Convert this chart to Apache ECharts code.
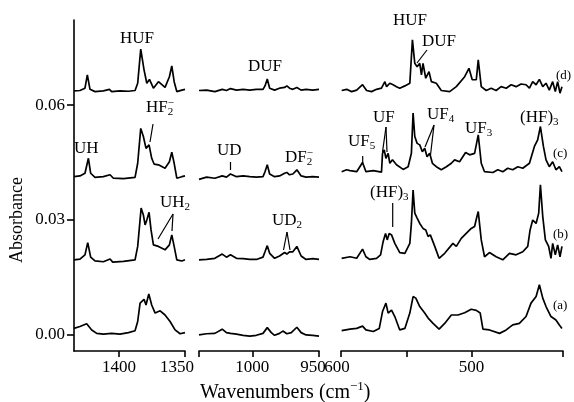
<!DOCTYPE html>
<html>
<head>
<meta charset="utf-8">
<script src="https://cdn.jsdelivr.net/npm/echarts@6.0.0/dist/echarts.min.js"></script>
<style>
  html, body { margin: 0; padding: 0; background: #fff; }
  #main { width: 574px; height: 402px; }
</style>
</head>
<body>
<div id="main"></div>
<script>
// axis ranges (cm-1) of the three broken panels, and absorbance range
var range1 = [1350, 1434];
var range2 = [950, 1040];
var range3 = [430, 600];
var yRange = [-0.0042, 0.0822];

// tick marks and tick labels
var yTicks = [0, 0.03, 0.06];
var x1Ticks = [1400, 1350];
var x1Labels = [1400, 1350];
var x2Ticks = [1040, 1000, 950];
var x2Labels = [1000, 950];
var x3Ticks = [600, 550, 500, 430];
var x3Labels = [600, 500];

// panel 1 (1434-1350)
var p1a = [[1434,0.0017],[1429.5,0.0022],[1424.4,0.0029],[1420.6,0.0013],[1416.8,0.0004],[1411.8,0.0002],[1405.5,0.0004],[1399.2,0.0002],[1392.8,0.0006],[1387.8,0.0011],[1385.8,0.0035],[1384,0.0083],[1381,0.0093],[1379.5,0.0078],[1377.4,0.0107],[1375.2,0.0078],[1372.6,0.0057],[1368.8,0.0063],[1365.1,0.0052],[1361.3,0.0035],[1357.5,0.0013],[1353.7,0.0003],[1350,0.0006]];
var p1b = [[1434,0.0196],[1429.5,0.0198],[1425.7,0.0209],[1423.6,0.0241],[1421.4,0.0203],[1418.1,0.0193],[1411.8,0.0191],[1406.7,0.0198],[1404.7,0.0190],[1396.6,0.0192],[1387.8,0.0196],[1385.8,0.0231],[1383.2,0.0331],[1381.5,0.0313],[1380.2,0.0287],[1378.9,0.0300],[1377.2,0.0320],[1375.7,0.0274],[1373.9,0.0235],[1370.1,0.0231],[1365.1,0.0222],[1361.8,0.0235],[1360,0.0261],[1358.2,0.0231],[1356.2,0.0196],[1352.4,0.0193],[1350,0.0196]];
var p1c = [[1434,0.0413],[1429.5,0.0415],[1425.7,0.0422],[1423.1,0.0461],[1421.4,0.0422],[1418.1,0.0411],[1411.8,0.0413],[1406.7,0.0418],[1404.2,0.0409],[1396.6,0.0408],[1387.8,0.0411],[1385.8,0.0448],[1383.5,0.0539],[1381.5,0.0518],[1379.5,0.0487],[1377.2,0.0496],[1375.2,0.0461],[1373.4,0.0446],[1370.1,0.0444],[1365.1,0.0435],[1361.8,0.0452],[1360,0.0477],[1358.2,0.0448],[1356.2,0.0409],[1352.4,0.0413],[1350,0.0415]];
var p1d = [[1434,0.0637],[1429.5,0.0638],[1425.7,0.0644],[1423.9,0.0679],[1421.9,0.0641],[1418.1,0.0635],[1411.8,0.0637],[1407.2,0.0641],[1405.5,0.0635],[1399.2,0.0637],[1392.8,0.0636],[1387.8,0.0638],[1385.8,0.0657],[1383.5,0.0746],[1381,0.0692],[1378.9,0.0657],[1376.9,0.0667],[1373.9,0.0644],[1370.1,0.0661],[1365.1,0.0646],[1361.8,0.0674],[1360,0.0702],[1358.2,0.0661],[1356.2,0.0635],[1352.4,0.0639],[1350,0.0641]];

// panel 2 (1040-950)
var p2a = [[1040,0.0000],[1034.3,0.0003],[1028.1,0.0004],[1022.6,0.0015],[1019.4,0.0006],[1016.4,0.0004],[1011.9,0.0002],[1006.9,-0.0001],[1001.9,-0.0003],[997,-0.0001],[992,0.0004],[988.8,0.0019],[985.8,0.0006],[983.3,-0.0001],[979.6,0.0004],[977.1,0.0010],[974.1,0.0003],[970.8,0.0006],[966.6,0.0020],[963.4,0.0006],[959.7,0.0000],[954.7,-0.0001],[950,-0.0003]];
var p2b = [[1040,0.0196],[1034.3,0.0197],[1028.1,0.0200],[1022.6,0.0211],[1019.4,0.0203],[1016.4,0.0209],[1011.9,0.0200],[1006.9,0.0199],[1001.9,0.0197],[997,0.0197],[992,0.0203],[990.5,0.0217],[988.8,0.0233],[987,0.0213],[983.3,0.0200],[979.6,0.0206],[975.8,0.0215],[974.1,0.0211],[972.1,0.0217],[969.6,0.0217],[966.6,0.0231],[963.4,0.0206],[959.7,0.0197],[954.7,0.0199],[950,0.0197]];
var p2c = [[1040,0.0406],[1034.3,0.0412],[1028.1,0.0409],[1022.6,0.0415],[1019.4,0.0412],[1016.4,0.0420],[1011.9,0.0413],[1006.9,0.0415],[1001.9,0.0413],[997,0.0412],[992,0.0413],[990.5,0.0426],[988.8,0.0444],[987,0.0420],[983.3,0.0413],[979.6,0.0415],[975.8,0.0422],[974.1,0.0424],[972.1,0.0418],[969.6,0.0420],[966.6,0.0431],[963.4,0.0415],[959.7,0.0412],[954.7,0.0413],[950,0.0412]];
var p2d = [[1040,0.0638],[1034.3,0.0639],[1028.1,0.0635],[1022.6,0.0641],[1019.4,0.0638],[1016.4,0.0643],[1011.9,0.0639],[1006.9,0.0641],[1001.9,0.0639],[997,0.0641],[992,0.0641],[990.5,0.0650],[988.8,0.0668],[987,0.0644],[983.3,0.0639],[979.6,0.0644],[975.8,0.0646],[974.1,0.0650],[972.1,0.0644],[969.6,0.0641],[966.6,0.0646],[963.4,0.0639],[959.7,0.0641],[954.7,0.0639],[950,0.0641]];

// panel 3 (600-430)
var p3a = [[599.5,0.0011],[593.1,0.0015],[588,0.0017],[583.5,0.0023],[580.9,0.0013],[575.3,0.0009],[570.7,0.0017],[568.2,0.0061],[565.6,0.0083],[563.9,0.0057],[561.3,0.0065],[558.8,0.0048],[555,0.0013],[551.1,0.0017],[547.3,0.0057],[544.8,0.0100],[542.7,0.0096],[539.7,0.0074],[535.9,0.0057],[533.3,0.0044],[529.5,0.0030],[524.9,0.0015],[520.6,0.0030],[515.5,0.0052],[510.4,0.0052],[505.3,0.0058],[500.3,0.0067],[496.4,0.0064],[493.4,0.0057],[491.3,0.0015],[486.3,0.0013],[478.6,0.0004],[473.5,0.0013],[468.5,0.0026],[463.4,0.0030],[458.3,0.0048],[454.5,0.0083],[450.6,0.0100],[448.1,0.0131],[445.5,0.0096],[443,0.0074],[439.2,0.0048],[435.4,0.0039],[432.8,0.0026],[430.8,0.0017]];
var p3b = [[599.5,0.0200],[593.1,0.0204],[588,0.0200],[583.5,0.0224],[580.9,0.0204],[577.9,0.0197],[572.8,0.0200],[569.7,0.0209],[567.7,0.0244],[565.9,0.0265],[564.6,0.0248],[563.1,0.0265],[561.3,0.0261],[558.8,0.0239],[555,0.0215],[551.1,0.0213],[547.3,0.0239],[546.1,0.0291],[544.8,0.0378],[543.5,0.0318],[541.7,0.0305],[539.7,0.0291],[537.2,0.0278],[535.1,0.0274],[533.3,0.0257],[531.6,0.0261],[528.2,0.0231],[524.9,0.0200],[520.6,0.0213],[514.3,0.0239],[511.7,0.0231],[507.9,0.0252],[504.1,0.0265],[500.3,0.0278],[497.7,0.0283],[495.9,0.0309],[494.9,0.0322],[492.6,0.0248],[490.1,0.0204],[486.3,0.0215],[481.2,0.0204],[476.1,0.0196],[471,0.0213],[465.9,0.0209],[460.8,0.0217],[457,0.0231],[455.2,0.0274],[453.2,0.0300],[450.6,0.0291],[448.6,0.0318],[447.3,0.0392],[445.5,0.0309],[443.5,0.0248],[441,0.0231],[439.2,0.0200],[437.9,0.0239],[435.9,0.0209],[434.1,0.0235],[432.3,0.0204],[430.8,0.0231]];
var p3c = [[599.5,0.0426],[595.7,0.0431],[593.1,0.0429],[588,0.0426],[583.5,0.0450],[580.9,0.0426],[575.3,0.0429],[569,0.0425],[568.2,0.0474],[566.9,0.0483],[565.6,0.0461],[563.9,0.0474],[562.6,0.0448],[560.6,0.0457],[557.5,0.0444],[552.4,0.0432],[548.6,0.0439],[546.1,0.0474],[544.8,0.0579],[543.5,0.0518],[541.7,0.0500],[539.7,0.0496],[537.7,0.0478],[535.9,0.0487],[534.1,0.0465],[532.1,0.0474],[530,0.0448],[527,0.0439],[523.2,0.0431],[519.3,0.0439],[515.5,0.0448],[513,0.0457],[509.2,0.0452],[504.6,0.0476],[501.5,0.0470],[497.7,0.0474],[494.9,0.0522],[492.6,0.0448],[490.1,0.0426],[483.7,0.0424],[479.9,0.0431],[476.1,0.0426],[472.3,0.0435],[468.5,0.0431],[464.6,0.0439],[460.8,0.0435],[455.7,0.0448],[451.9,0.0492],[449.4,0.0509],[447.3,0.0544],[445,0.0492],[443,0.0457],[440.5,0.0439],[437.9,0.0452],[435.4,0.0431],[432.8,0.0439],[430.8,0.0426]];
var p3d = [[599.5,0.0638],[595.7,0.0641],[591.9,0.0635],[588,0.0639],[583.5,0.0653],[580.4,0.0638],[576.6,0.0635],[572.8,0.0641],[569,0.0644],[566.4,0.0661],[565.1,0.0648],[562.6,0.0657],[560.1,0.0653],[557.5,0.0648],[555,0.0644],[551.1,0.0650],[547.3,0.0657],[545.3,0.0770],[543.5,0.0709],[541.7,0.0700],[539.7,0.0709],[538.4,0.0679],[537.2,0.0709],[535.1,0.0670],[532.6,0.0687],[530.8,0.0661],[527,0.0657],[523.2,0.0638],[516.8,0.0635],[511.7,0.0648],[505.3,0.0674],[502,0.0696],[499.5,0.0666],[496.4,0.0666],[494.9,0.0718],[492.6,0.0648],[488.8,0.0638],[485,0.0644],[481.2,0.0638],[477.4,0.0648],[473.5,0.0644],[469.7,0.0653],[465.9,0.0648],[462.1,0.0655],[458.3,0.0653],[455.7,0.0644],[453.2,0.0661],[450.6,0.0653],[448.1,0.0667],[445.5,0.0648],[443,0.0657],[440.5,0.0639],[437.9,0.0661],[435.9,0.0635],[434.1,0.0661],[432.3,0.0631],[430.8,0.0648]];

var serif = '"Liberation Serif", "Times New Roman", serif';
var black = '#000';

// text width helper for sub/superscripts
var ctx = document.createElement('canvas').getContext('2d');
function textW(t, size) {
    ctx.font = size + 'px ' + serif;
    return ctx.measureText(t).width;
}

// chemical label: parts = [[text, 'n'|'b'(sub)|'p'(sup)], ...], x = left, y = middle
function chem(x, y, parts, size) {
    size = size || 17;
    var out = [];
    var cx = x, lastW = 0, prev = 'n';
    parts.forEach(function (p) {
        var t = p[0], k = p[1];
        var fs = k === 'n' ? size : Math.round(size * 0.64);
        if (k === 'p' && prev === 'b') cx -= lastW;
        var dy = k === 'b' ? size * 0.27 : (k === 'p' ? -size * 0.3 : 0);
        out.push({
            type: 'text', x: cx, y: y + dy, z: 10,
            style: {
                text: t, fill: black, font: fs + 'px ' + serif,
                align: 'left', verticalAlign: 'middle',
                textAlign: 'left', textVerticalAlign: 'middle'
            }
        });
        lastW = textW(t, fs);
        cx += lastW;
        prev = k;
    });
    return out;
}

function seg(x1, y1, x2, y2) {
    return {
        type: 'line', z: 10,
        shape: { x1: x1, y1: y1, x2: x2, y2: y2 },
        style: { stroke: black, lineWidth: 1.2 }
    };
}

var gridTop = 20, gridH = 331;
var grids = [
    { left: 74, top: gridTop, width: 111, height: gridH },
    { left: 199, top: gridTop, width: 120, height: gridH },
    { left: 341, top: gridTop, width: 222, height: gridH }
];

var tickFont = { color: black, fontFamily: serif, fontSize: 17 };

function xAx(idx, rg, ticks, labels, shift) {
    var rich = {};
    Object.keys(shift).forEach(function (k) {
        rich['r' + k] = { padding: [0, shift[k], 0, 0], color: black, fontFamily: serif, fontSize: 17 };
    });
    return {
        type: 'value', gridIndex: idx, min: rg[0], max: rg[1], inverse: true,
        axisLine: { onZero: false, lineStyle: { color: black, width: 1.6 } },
        axisTick: { customValues: ticks, length: 6, lineStyle: { color: black, width: 1.6 } },
        axisLabel: Object.assign({
            customValues: labels, margin: 8, rich: rich,
            formatter: function (v) { return shift[v] ? '{r' + v + '|' + v + '}' : String(v); }
        }, tickFont),
        splitLine: { show: false }
    };
}

function yAx(idx, visible) {
    return {
        type: 'value', gridIndex: idx, min: yRange[0], max: yRange[1], show: visible,
        axisLine: { show: true, onZero: false, lineStyle: { color: black, width: 1.6 } },
        axisTick: { customValues: yTicks, length: 7, lineStyle: { color: black, width: 1.6 } },
        axisLabel: Object.assign({
            customValues: yTicks, margin: 9,
            formatter: function (v) { return v.toFixed(2); }
        }, tickFont),
        splitLine: { show: false }
    };
}

function traces(idx, list) {
    return list.map(function (d) {
        return {
            type: 'line', xAxisIndex: idx, yAxisIndex: idx, data: d,
            symbol: 'none', silent: true,
            lineStyle: { color: black, width: 1.7 }
        };
    });
}

// annotations
var g = [];
// panel 1
g = g.concat(chem(120, 39, [['HUF', 'n']]));
g = g.concat(chem(146, 108, [['HF', 'n'], ['2', 'b'], ['\u2212', 'p']]));
g.push(seg(153, 124, 150, 142));
g = g.concat(chem(74, 149, [['UH', 'n']]));
g = g.concat(chem(160, 203, [['UH', 'n'], ['2', 'b']]));
g.push(seg(173, 214, 158, 239));
g.push(seg(173, 214, 172, 231));
// panel 2
g = g.concat(chem(248, 67, [['DUF', 'n']]));
g = g.concat(chem(217, 151, [['UD', 'n']]));
g.push(seg(230.5, 162, 230.5, 170));
g = g.concat(chem(285, 158, [['DF', 'n'], ['2', 'b'], ['\u2212', 'p']]));
g = g.concat(chem(272, 221, [['UD', 'n'], ['2', 'b']]));
g.push(seg(287, 232, 283.5, 250));
g.push(seg(287, 232, 290, 250));
// panel 3
g = g.concat(chem(393, 21, [['HUF', 'n']]));
g = g.concat(chem(422, 42, [['DUF', 'n']]));
g.push(seg(427, 50, 417, 63));
g = g.concat(chem(556, 76, [['(d)', 'n']], 13));
g = g.concat(chem(348, 142, [['UF', 'n'], ['5', 'b']]));
g.push(seg(362.7, 156, 362.7, 163));
g = g.concat(chem(373, 118, [['UF', 'n']]));
g.push(seg(386, 127, 382.5, 152));
g.push(seg(386, 127, 387, 152));
g = g.concat(chem(427, 115, [['UF', 'n'], ['4', 'b']]));
g.push(seg(434, 125, 425, 147));
g.push(seg(434, 125, 430.5, 155));
g = g.concat(chem(465, 129, [['UF', 'n'], ['3', 'b']]));
g = g.concat(chem(520, 118, [['(HF)', 'n'], ['3', 'b']]));
g = g.concat(chem(553, 154, [['(c)', 'n']], 13));
g = g.concat(chem(370, 193, [['(HF)', 'n'], ['3', 'b']]));
g.push(seg(392.7, 203, 392.7, 227));
g = g.concat(chem(553, 235, [['(b)', 'n']], 13));
g = g.concat(chem(553, 306, [['(a)', 'n']], 13));
// axis names
g = g.concat(chem(200, 393, [['Wavenumbers (cm', 'n'], ['\u22121', 'p'], [')', 'n']], 20));
g.push({
    type: 'text', x: 17, y: 220, rotation: Math.PI / 2, z: 10,
    style: {
        text: 'Absorbance', fill: black, font: '18px ' + serif,
        align: 'center', verticalAlign: 'middle',
        textAlign: 'center', textVerticalAlign: 'middle'
    }
});

var myChart = echarts.init(document.getElementById('main'), null, { renderer: 'canvas' });
myChart.setOption({
    animation: false,
    backgroundColor: '#fff',
    grid: grids,
    xAxis: [
        xAx(0, range1, x1Ticks, x1Labels, { 1350: 16 }),
        xAx(1, range2, x2Ticks, x2Labels, { 950: 12 }),
        xAx(2, range3, x3Ticks, x3Labels, { 600: 8 })
    ],
    yAxis: [yAx(0, true), yAx(1, false), yAx(2, false)],
    series: []
        .concat(traces(0, [p1a, p1b, p1c, p1d]))
        .concat(traces(1, [p2a, p2b, p2c, p2d]))
        .concat(traces(2, [p3a, p3b, p3c, p3d])),
    graphic: g
});
</script>
</body>
</html>
